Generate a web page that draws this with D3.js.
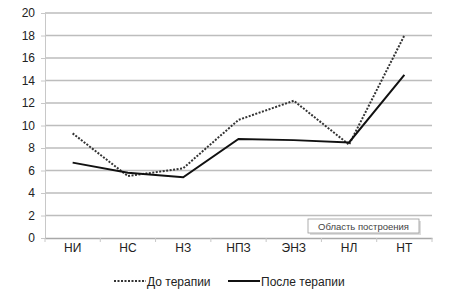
<!DOCTYPE html>
<html>
<head>
<meta charset="utf-8">
<script src="https://cdn.jsdelivr.net/npm/d3@7"></script>
<style>
body { margin: 0; background: #fff; }
svg { font-family: "Liberation Sans", Arial, sans-serif; }
</style>
</head>
<body>
<svg id="chart" width="466" height="300"></svg>
<script>
var categories = ["НИ", "НС", "НЗ", "НПЗ", "ЭНЗ", "НЛ", "НТ"]
var beforeValues = [9.3, 5.5, 6.2, 10.5, 12.2, 8.3, 18]
var afterValues = [6.7, 5.8, 5.4, 8.8, 8.7, 8.5, 14.5]
var yTicks = [0, 2, 4, 6, 8, 10, 12, 14, 16, 18, 20]
var seriesNames = ["До терапии", "После терапии"]

var svg = d3.select("#chart")
var plot = { left: 45, right: 432, top: 13, bottom: 238 }

var x = d3.scaleBand().domain(categories).range([plot.left, plot.right])
var y = d3.scaleLinear().domain([0, 20]).range([plot.bottom, plot.top])

// gridlines
svg.append("g")
	.selectAll("line")
	.data(yTicks.filter(function(d){ return d > 0 }))
	.enter()
	.append("line")
	.attr("x1", plot.left)
	.attr("x2", plot.right)
	.attr("y1", function(d){ return y(d) })
	.attr("y2", function(d){ return y(d) })
	.attr("stroke", "#bdbdbd")
	.attr("stroke-width", 1.5)

// y axis
var yAxis = svg.append("g")
	.attr("transform", "translate(" + plot.left + ",0)")
	.call(d3.axisLeft(y).tickValues(yTicks).tickSize(4).tickPadding(6))
yAxis.select(".domain").attr("stroke", "#c8c8c8")
yAxis.selectAll(".tick line").attr("stroke", "#c8c8c8")
yAxis.selectAll("text").attr("font-size", 12).attr("fill", "#222")
	.attr("font-family", "Liberation Sans, Arial, sans-serif")

// x axis
var xAxis = svg.append("g")
	.attr("transform", "translate(0," + plot.bottom + ")")
	.call(d3.axisBottom(x).tickSize(0).tickPadding(5))
xAxis.select(".domain").attr("stroke", "#a8a8a8").attr("stroke-width", 1.5)
xAxis.selectAll("text").attr("font-size", 12).attr("fill", "#222")
	.attr("font-family", "Liberation Sans, Arial, sans-serif")

// x axis tick marks at category boundaries
svg.append("g")
	.selectAll("line")
	.data(categories.concat(["end"]))
	.enter()
	.append("line")
	.attr("x1", function(d,i){ return plot.left + i * x.bandwidth() })
	.attr("x2", function(d,i){ return plot.left + i * x.bandwidth() })
	.attr("y1", plot.bottom)
	.attr("y2", plot.bottom + 4)
	.attr("stroke", "#c8c8c8")

var line = d3.line()
	.x(function(d,i){ return x(categories[i]) + x.bandwidth() / 2 })
	.y(function(d){ return y(d) })

svg.append("path")
	.datum(beforeValues)
	.attr("d", line)
	.attr("fill", "none")
	.attr("stroke", "#333")
	.attr("stroke-width", 2)
	.attr("stroke-dasharray", "2,1.5")

svg.append("path")
	.datum(afterValues)
	.attr("d", line)
	.attr("fill", "none")
	.attr("stroke", "#111")
	.attr("stroke-width", 2)

// Excel tooltip box
var tip = svg.append("g").attr("transform", "translate(308,219)")
tip.append("rect")
	.attr("x", 2).attr("y", 2).attr("width", 111).attr("height", 14)
	.attr("fill", "#ddd")
tip.append("rect")
	.attr("width", 111).attr("height", 14)
	.attr("fill", "#fff").attr("stroke", "#999").attr("stroke-width", 0.8)
tip.append("text")
	.attr("x", 55.5).attr("y", 10.5)
	.attr("text-anchor", "middle")
	.attr("font-size", 9.5)
	.attr("fill", "#444")
	.text("Область построения")

// legend
var legendItems = [
	{ name: seriesNames[0], x: 114, dash: "2,1.5", color: "#333" },
	{ name: seriesNames[1], x: 228, dash: null, color: "#111" }
]
var lg = svg.append("g")
	.selectAll("g")
	.data(legendItems)
	.enter()
	.append("g")
	.attr("transform", function(d){ return "translate(" + d.x + ",281)" })
lg.append("line")
	.attr("x1", 0).attr("x2", 32)
	.attr("stroke", function(d){ return d.color })
	.attr("stroke-width", 2)
	.attr("stroke-dasharray", function(d){ return d.dash })
lg.append("text")
	.attr("x", 33)
	.attr("y", 4.5)
	.attr("font-size", 12)
	.attr("fill", "#222")
	.text(function(d){ return d.name })
</script>
</body>
</html>
